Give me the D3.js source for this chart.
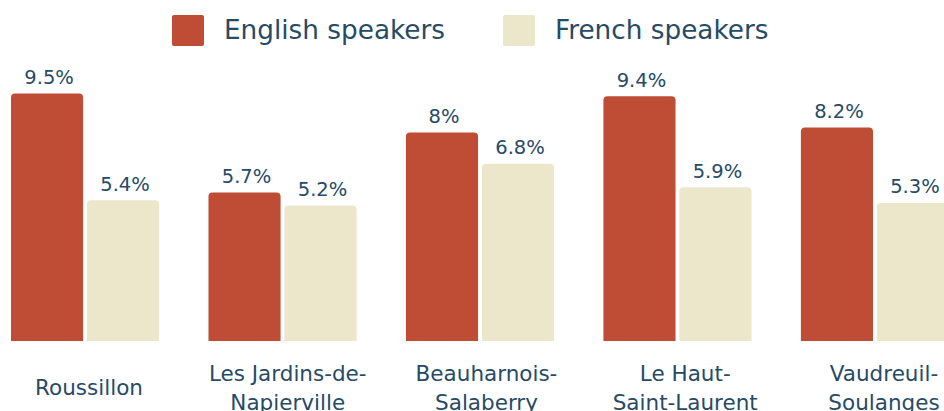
<!DOCTYPE html>
<html>
<head>
<meta charset="utf-8">
<script src="https://cdn.jsdelivr.net/npm/d3@7"></script>
<style>
  html, body { margin: 0; padding: 0; background: #ffffff; }
  svg { display: block; }
  text { font-family: "DejaVu Sans", sans-serif; fill: #274a65; }
</style>
</head>
<body>
<svg id="chart" width="944" height="411"></svg>
<script>
const categories = ["Roussillon", "Les Jardins-de-\nNapierville", "Beauharnois-\nSalaberry", "Le Haut-\nSaint-Laurent", "Vaudreuil-\nSoulanges"];
const seriesNames = ["English speakers", "French speakers"];
const englishValues = [9.5, 5.7, 8.0, 9.4, 8.2];
const frenchValues = [5.4, 5.2, 6.8, 5.9, 5.3];
const valueLabels = [["9.5%", "5.7%", "8%", "9.4%", "8.2%"], ["5.4%", "5.2%", "6.8%", "5.9%", "5.3%"]];
const colors = ["#bf4d35", "#ece6cb"];

const svg = d3.select("#chart");
const seriesValues = [englishValues, frenchValues];

const x0 = d3.scaleBand().domain(categories).range([11, 949]).paddingInner(0.25).paddingOuter(0);
const x1 = d3.scaleBand().domain(seriesNames).range([0, x0.bandwidth()]).paddingInner(0.051);
const xLabel = d3.scalePoint().domain(categories).range([89, 884]);
const y = d3.scaleLinear().domain([0, 10]).range([341, 80.5]);

function topRounded(x, yTop, w, h, r) {
  r = Math.min(r, h, w / 2);
  return `M${x},${yTop + h}V${yTop + r}Q${x},${yTop} ${x + r},${yTop}H${x + w - r}Q${x + w},${yTop} ${x + w},${yTop + r}V${yTop + h}Z`;
}

const data = [];
categories.forEach((c, i) => {
  seriesNames.forEach((s, j) => {
    data.push({ cat: c, series: s, si: j, value: seriesValues[j][i], label: valueLabels[j][i] });
  });
});

const bars = svg.append("g");
bars.selectAll("path").data(data).join("path")
  .attr("d", d => {
    const bx = x0(d.cat) + x1(d.series);
    const by = y(d.value);
    return topRounded(bx, by, x1.bandwidth(), y(0) - by, 4);
  })
  .attr("fill", d => colors[d.si]);

svg.append("g").selectAll("text").data(data).join("text")
  .attr("x", d => x0(d.cat) + x1(d.series) + x1.bandwidth() / 2 + 2)
  .attr("y", d => y(d.value) - 9.5)
  .attr("text-anchor", "middle")
  .style("font-size", "19.5px")
  .text(d => d.label);

// category labels
const lineH = 29;
const catG = svg.append("g");
categories.forEach(c => {
  const lines = c.split("\n");
  const t = catG.append("text")
    .attr("text-anchor", "middle")
    .style("font-size", "21.5px");
  const firstBase = 395 - (lines.length - 1) * lineH / 2;
  lines.forEach((ln, k) => {
    t.append("tspan").attr("x", xLabel(c)).attr("y", firstBase + k * lineH).text(ln);
  });
});

// legend
const legend = svg.append("g");
const legendX = d3.scalePoint().domain(seriesNames).range([172, 503]);
seriesNames.forEach((s, j) => {
  const lx = legendX(s);
  legend.append("rect").attr("x", lx).attr("y", 15).attr("width", 32).attr("height", 31).attr("rx", 2)
    .attr("fill", colors[j]);
  legend.append("text").attr("x", lx + 52).attr("y", 39)
    .style("font-size", "26.3px").text(s);
});
</script>
</body>
</html>
